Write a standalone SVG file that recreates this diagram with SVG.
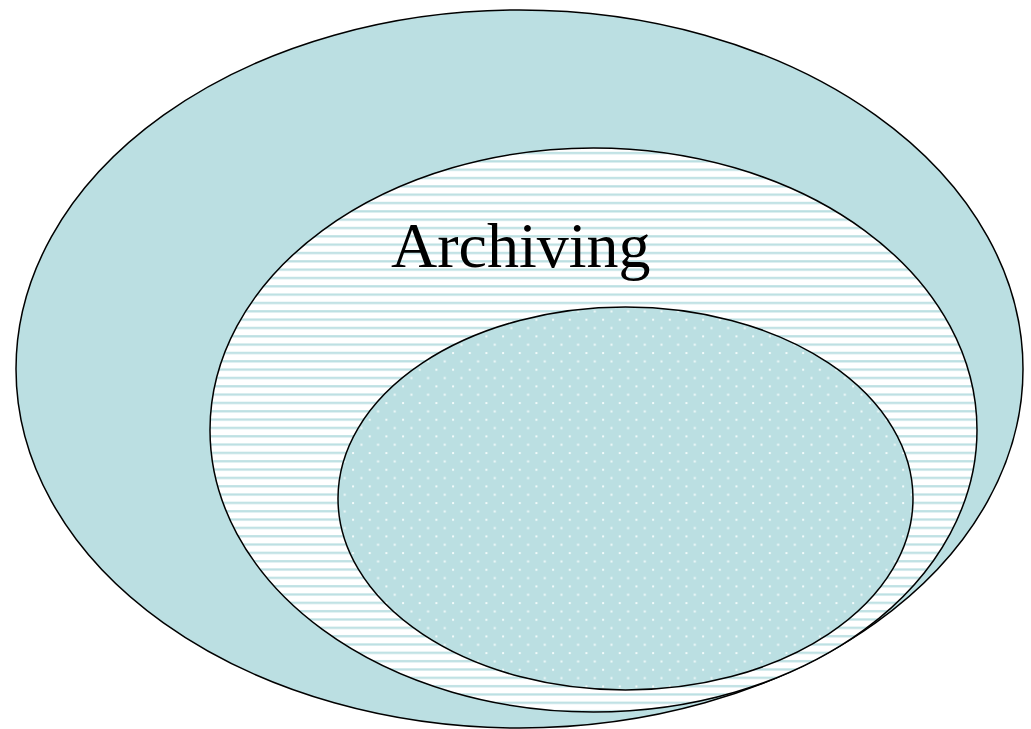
<svg xmlns="http://www.w3.org/2000/svg" width="1031" height="729" viewBox="0 0 1031 729">
<style>
.e{stroke:#000;stroke-width:1.5}
.t{font-family:"Liberation Serif","Times New Roman",serif;font-size:64px;fill:#000}
</style>
<defs>
<pattern id="hl" patternUnits="userSpaceOnUse" x="0" y="0" width="20" height="8.33">
<rect width="20" height="8.33" fill="#fff"/>
<rect y="2" width="20" height="2.2" fill="#bbdfe2"/>
</pattern>
<pattern id="dots" patternUnits="userSpaceOnUse" x="0" y="0" width="16.67" height="16.67">
<rect width="16.67" height="16.67" fill="#bbdfe2"/>
<rect x="2" y="2" width="2" height="2" fill="#f2fafa"/>
<rect x="10.33" y="10.33" width="2" height="2" fill="#f2fafa"/>
</pattern>
</defs>
<rect width="1031" height="729" fill="#fff"/>
<g id="outer"><ellipse class="e" cx="519.5" cy="369" rx="503.5" ry="359" fill="#bbdfe2"/></g>
<g id="middle"><ellipse class="e" cx="593.5" cy="430" rx="383.5" ry="282" fill="url(#hl)"/>
<text class="t" x="391" y="267">Archiving</text></g>
<g id="inner"><ellipse class="e" cx="625.5" cy="498.5" rx="287.5" ry="191.5" fill="url(#dots)"/></g>
<g id="connectors"/>
</svg>
